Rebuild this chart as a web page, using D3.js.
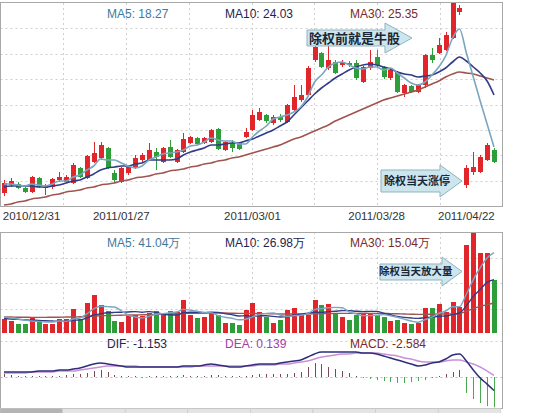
<!DOCTYPE html>
<html><head><meta charset="utf-8">
<script src="https://cdn.jsdelivr.net/npm/d3@7"></script>
<style>body{margin:0;background:#fff}svg{display:block}</style>
</head><body><svg id="c" width="550" height="413"></svg>
<script>
const tickLabels = ["2010/12/31","2011/01/27","2011/03/01","2011/03/28","2011/04/22"];
const tickIndex = [4,17,36,54,67];
const open = [14.1,14.9,15.0,14.6,14.2,15.6,14.6,14.7,15.4,15.2,
 15.1,16.6,15.6,17.2,17.6,18.6,16.1,15.2,16.1,16.6,
 17.4,17.4,18.2,17.2,18.7,17.2,18.2,19.1,19.6,19.1,
 19.2,20.5,18.4,19.1,19.1,19.7,20.4,21.4,21.9,21.1,
 21.7,21.2,22.4,23.4,23.9,27.4,28.1,26.6,27.2,26.9,
 27.1,27.1,25.2,26.6,27.7,26.7,25.6,26.2,24.1,24.8,
 24.2,24.9,27.9,28.1,28.4,29.6,32.2,14.9,16.2,16.2,
 17.4,18.4];
const high = [15.4,15.6,15.2,14.8,15.8,15.7,15.0,15.6,16.2,15.9,
 17.1,16.7,17.9,19.2,19.2,18.7,16.4,16.7,16.9,17.9,
 18.1,19.1,18.6,18.7,19.4,18.5,20.1,19.8,19.7,19.7,
 20.5,20.6,19.3,19.4,19.2,20.6,22.4,22.6,22.0,21.9,
 22.0,23.0,24.9,24.9,26.8,28.9,28.2,28.9,27.4,27.4,
 27.3,27.4,26.8,28.4,28.4,26.8,26.6,26.3,25.0,24.9,
 25.0,28.0,28.6,29.6,30.2,34.0,32.9,16.9,18.2,17.9,
 19.1,18.6];
const low = [13.8,14.7,14.5,14.1,14.1,14.6,13.9,14.5,15.2,15.1,
 15.0,15.6,15.5,17.1,17.4,16.5,15.1,15.1,15.9,16.5,
 17.2,17.3,16.4,17.1,17.6,17.1,18.1,19.0,18.9,19.0,
 19.1,18.4,18.3,18.2,18.4,19.6,20.3,21.3,21.1,20.9,
 21.2,21.1,22.3,23.2,23.8,27.2,26.6,26.4,26.0,26.7,
 26.7,25.4,25.1,26.4,26.7,25.5,25.4,24.1,23.7,24.1,
 24.1,24.6,27.1,28.0,28.3,29.5,31.9,14.6,15.9,16.1,
 17.3,17.1];
const close = [15.1,15.3,14.6,14.2,15.7,14.7,14.8,15.5,15.7,15.7,
 16.9,15.7,17.8,18.1,18.9,16.6,15.4,16.6,16.7,17.6,
 17.9,18.4,17.7,18.6,17.7,18.4,19.5,19.7,19.0,19.6,
 20.4,18.5,19.2,18.6,18.5,20.2,21.9,22.2,21.3,21.7,
 21.4,22.9,23.7,23.9,26.6,28.7,26.7,27.4,26.1,27.2,
 26.9,25.6,26.7,27.2,26.9,25.7,26.4,24.2,24.9,24.2,
 24.9,27.9,27.4,28.9,29.9,33.8,32.6,16.6,16.7,17.7,
 18.9,17.2];
const ma5 = [15.0,15.0,14.9,14.8,15.0,14.9,14.8,15.0,15.3,15.3,
 15.7,15.9,16.4,16.8,17.5,17.4,17.4,17.1,16.8,16.6,
 16.8,17.4,17.7,18.0,18.1,18.2,18.4,18.8,18.9,19.2,
 19.6,19.4,19.3,19.3,19.0,19.0,19.7,20.3,20.8,21.5,
 21.7,21.9,22.2,22.7,23.7,25.2,25.9,26.7,27.1,27.2,
 26.9,26.6,26.5,26.7,26.7,26.4,26.6,26.1,25.6,25.1,
 24.9,25.2,25.9,26.7,27.8,29.6,30.5,28.1,25.7,23.3,
 21.0,18.7];
const ma10 = [14.7,14.8,14.8,14.8,14.8,14.7,14.7,14.8,14.9,15.1,
 15.3,15.4,15.7,16.0,16.4,16.6,16.7,16.8,16.8,17.0,
 17.1,17.4,17.4,17.4,17.4,17.5,17.9,18.2,18.4,18.6,
 18.9,18.9,19.0,19.1,19.1,19.3,19.5,19.8,20.1,20.4,
 20.8,21.2,21.9,22.6,23.3,24.0,24.6,25.1,25.6,26.0,
 26.4,26.7,26.9,27.0,26.9,26.7,26.5,26.2,26.0,25.9,
 25.7,25.8,25.9,26.2,26.6,27.2,27.7,27.3,26.7,26.1,
 25.3,23.9];
const ma30 = [12.9,13.0,13.2,13.3,13.5,13.6,13.7,13.9,14.0,14.2,
 14.3,14.4,14.6,14.7,14.9,15.0,15.1,15.3,15.4,15.6,
 15.7,15.8,16.0,16.1,16.3,16.4,16.5,16.7,16.8,17.0,
 17.1,17.3,17.4,17.6,17.7,17.9,18.1,18.3,18.5,18.7,
 18.9,19.2,19.5,19.7,20.0,20.3,20.6,20.9,21.3,21.6,
 21.9,22.2,22.5,22.8,23.1,23.4,23.6,23.8,24.0,24.2,
 24.4,24.7,25.0,25.3,25.7,26.0,26.2,26.1,26.0,25.8,
 25.6,25.4];
const volume = [7,6,4.5,4.5,8,6,4.5,4.5,7,7,
 12,7,15,19,14,11,6,5.5,8.5,9,
 8.5,10,11,10,11,10.5,16.5,9,7.5,8,
 10,9,5,5,4,11.5,15,10.5,8,5,
 6.5,11.5,12.5,9,9,16.5,14,14.5,10,8,
 6.5,9,10,10,9,8,6,6.5,5,4.5,
 5,12.5,12.5,14.5,10.5,15.5,13,44,50.5,40,
 40,26.5];
const volMa5 = [8.0,7.5,7.0,6.5,6.0,5.8,5.5,5.5,6.0,5.8,
 7.0,7.5,9.6,12.0,13.4,13.2,13.0,11.1,9.0,8.0,
 7.5,8.3,9.4,9.7,10.1,10.5,11.8,11.4,10.9,10.3,
 10.2,8.7,7.9,7.4,6.6,6.9,8.1,9.2,9.8,10.0,
 9.0,8.3,8.7,8.9,9.7,11.7,12.2,12.6,12.8,12.6,
 10.6,9.6,8.7,8.7,8.9,9.2,8.6,7.9,6.9,6.0,
 5.4,6.7,7.9,9.8,11.0,13.1,13.2,19.5,26.7,32.6,
 37.5,40.2];
const volMa10 = [7.2,7.0,6.8,6.6,6.4,6.3,6.1,6.0,5.9,5.9,
 6.4,6.5,7.6,9.0,9.6,10.1,10.3,10.4,10.5,10.7,
 10.4,10.7,10.3,9.4,9.1,9.0,10.1,10.4,10.3,10.2,
 10.4,10.3,9.7,9.2,8.5,8.6,8.4,8.6,8.6,8.3,
 8.0,8.2,9.0,9.4,9.9,10.4,10.3,10.7,10.9,11.2,
 11.2,10.9,10.7,10.8,10.8,9.9,9.1,8.3,7.8,7.5,
 7.3,7.7,7.9,8.4,8.5,9.3,10.0,13.7,18.3,21.8,
 25.3,26.7];
const volMa30 = [8.0,8.0,7.9,7.9,7.8,7.8,7.8,7.9,7.9,8.0,
 8.0,8.1,8.2,8.4,8.6,8.7,8.8,8.9,9.0,9.0,
 9.1,9.2,9.3,9.4,9.5,9.6,9.8,9.9,9.9,10.0,
 10.0,10.0,10.0,9.9,9.8,9.8,9.8,9.7,9.7,9.6,
 9.5,9.5,9.5,9.5,9.5,9.6,9.7,9.7,9.8,9.8,
 9.8,9.8,9.8,9.8,9.8,9.8,9.7,9.6,9.5,9.4,
 9.3,9.3,9.4,9.5,9.5,9.6,9.7,10.9,12.2,13.3,
 14.2,15.0];
const dif = [0.43,0.43,0.43,0.43,0.43,0.51,0.51,0.51,0.6,0.6,
 0.68,0.77,0.94,1.11,1.19,1.11,1.02,0.94,0.85,0.85,
 0.85,0.85,0.85,0.85,0.85,0.85,0.94,0.94,0.94,1.02,
 1.11,1.02,0.94,0.85,0.85,0.94,1.02,1.11,1.11,1.11,
 1.19,1.28,1.36,1.45,1.7,1.96,2.13,2.13,2.13,2.13,
 2.13,2.13,2.04,2.04,1.96,1.79,1.62,1.45,1.28,1.11,
 0.94,1.02,1.19,1.28,1.53,1.87,1.96,1.36,0.6,-0.09,
 -0.6,-1.15];
const dea = [0.34,0.34,0.34,0.34,0.43,0.43,0.43,0.43,0.51,0.51,
 0.51,0.6,0.68,0.77,0.85,0.94,0.94,0.94,0.94,0.94,
 0.85,0.85,0.85,0.85,0.85,0.85,0.85,0.85,0.94,0.94,
 0.94,0.94,0.94,0.94,0.94,0.94,0.94,1.02,1.02,1.02,
 1.11,1.11,1.19,1.28,1.36,1.53,1.7,1.79,1.87,1.96,
 1.96,2.04,2.04,2.04,2.04,1.96,1.87,1.79,1.62,1.53,
 1.36,1.28,1.28,1.28,1.36,1.45,1.45,1.28,1.11,0.85,
 0.51,0.14];
const macd = [0.26,0.17,0.09,0.09,0.09,0.09,0.09,0.09,0.09,0.17,
 0.26,0.26,0.34,0.51,0.6,0.43,0.17,0.09,0.09,0.09,
 -0.09,0.09,0.09,0.09,0.09,0.09,0.17,0.09,0.09,0.09,
 0.17,0.17,0.09,0.09,0.09,0.09,0.17,0.26,0.26,0.26,
 0.26,0.26,0.34,0.43,0.85,1.19,1.1,0.85,0.68,0.51,
 0.34,0.09,-0.09,-0.17,-0.26,-0.34,-0.43,-0.51,-0.51,-0.43,
 -0.34,-0.26,-0.09,0.09,0.26,0.43,0.6,-1.36,-1.87,-2.21,
 -2.47,-2.58];
const priceLegend = ["MA5: 18.27","MA10: 24.03","MA30: 25.35"];
const volLegend = ["MA5: 41.04万","MA10: 26.98万","MA30: 15.04万"];
const macdLegend = ["DIF: -1.153","DEA: 0.139","MACD: -2.584"];
const notes = ["除权前就是牛股","除权当天涨停","除权当天放大量"];

const RED="#e0262a", GREEN="#2e9e3a";
const C5="#7aa6c2", C10="#323c86", C30="#a0544f";
const svg = d3.select("#c");
const n = close.length;
const x = d3.scaleLinear().domain([0,n-1]).range([4,494]);
const PL=0.5, PR=502.5;
const yP = d3.scaleLinear().domain([12.8,33.1]).range([206,3]);
const yV = d3.scaleLinear().domain([0,50.5]).range([333,232]);
const yM = d3.scaleLinear().domain([-2.6,3.2]).range([407.6,339.4]);

function grid(t,b,rows){
  const g=svg.append("g").attr("stroke","#cfcfcf").attr("stroke-dasharray","2,3").attr("stroke-width",1);
  for(let k=1;k<8;k++){const gx=Math.round(PL+k*(PR-PL)/8)+0.5;g.append("line").attr("x1",gx).attr("x2",gx).attr("y1",t).attr("y2",b);}
  for(let k=1;k<rows;k++){const gy=Math.round(t+k*(b-t)/rows)+0.5;g.append("line").attr("x1",PL).attr("x2",PR).attr("y1",gy).attr("y2",gy);}
}
grid(3,206,8);
grid(232,334,4);
svg.append("line").attr("x1",PL).attr("x2",PR).attr("y1",341.5).attr("y2",341.5).attr("stroke","#cfcfcf").attr("stroke-dasharray","2,3");
svg.append("line").attr("x1",PL).attr("x2",PR).attr("y1",yM(0)+0.5).attr("y2",yM(0)+0.5).attr("stroke","#bbb").attr("stroke-dasharray","2,3");

// clips
const defs=svg.append("defs");
defs.append("clipPath").attr("id","cp").append("rect").attr("x",PL).attr("y",3).attr("width",PR-PL).attr("height",203);
defs.append("clipPath").attr("id","cm").append("rect").attr("x",PL).attr("y",336).attr("width",PR-PL).attr("height",72);

// candles
const idx=d3.range(n);
const gc=svg.append("g").attr("clip-path","url(#cp)");
const col=i=>close[i]>=open[i]?RED:GREEN;
gc.selectAll("line.w").data(idx).join("line").attr("x1",i=>Math.round(x(i))+0.5).attr("x2",i=>Math.round(x(i))+0.5)
 .attr("y1",i=>yP(high[i])).attr("y2",i=>yP(low[i])).attr("stroke",col).attr("stroke-width",1);
gc.selectAll("rect.b").data(idx).join("rect").attr("x",i=>Math.round(x(i))-2).attr("width",5)
 .attr("y",i=>yP(Math.max(open[i],close[i]))).attr("height",i=>Math.max(1.5,Math.abs(yP(open[i])-yP(close[i]))))
 .attr("fill",col);
const lineP=d3.line().x((d,i)=>x(i)).y(d=>yP(d)).curve(d3.curveMonotoneX);
[[ma30,C30],[ma10,C10],[ma5,C5]].forEach(([a,c])=>gc.append("path").attr("d",lineP(a)).attr("fill","none").attr("stroke",c).attr("stroke-width",1.6));

// volume
const gv=svg.append("g");
gv.selectAll("rect").data(idx).join("rect").attr("x",i=>Math.round(x(i))-2).attr("width",5)
 .attr("y",i=>yV(volume[i])).attr("height",i=>yV(0)-yV(volume[i])).attr("fill",col);
const lineV=d3.line().x((d,i)=>x(i)).y(d=>yV(d)).curve(d3.curveMonotoneX);
[[volMa30,C30],[volMa10,C10],[volMa5,C5]].forEach(([a,c])=>gv.append("path").attr("d",lineV(a)).attr("fill","none").attr("stroke",c).attr("stroke-width",1.4));

// macd
const gm=svg.append("g").attr("clip-path","url(#cm)");
gm.selectAll("line").data(idx).join("line").attr("x1",i=>Math.round(x(i))+0.5).attr("x2",i=>Math.round(x(i))+0.5)
 .attr("y1",yM(0)).attr("y2",i=>yM(macd[i])).attr("stroke",i=>macd[i]>=0?"#7a4a52":"#4aa84e").attr("stroke-width",1);
const lineM=d3.line().x((d,i)=>x(i)).y(d=>yM(d)).curve(d3.curveMonotoneX);
gm.append("path").attr("d",lineM(dea)).attr("fill","none").attr("stroke","#c98fd8").attr("stroke-width",1.5);
gm.append("path").attr("d",lineM(dif)).attr("fill","none").attr("stroke","#2c2f78").attr("stroke-width",1.5);

// borders
svg.append("rect").attr("x",PL).attr("y",2.5).attr("width",PR-PL).attr("height",204).attr("fill","none").attr("stroke","#a8a8a8");
svg.append("rect").attr("x",PL).attr("y",232.5).attr("width",PR-PL).attr("height",176).attr("fill","none").attr("stroke","#a8a8a8");

// date labels
svg.append("g").selectAll("text").data(tickIndex).join("text").attr("x",i=>x(i)).attr("y",220)
 .attr("text-anchor","middle").attr("font-family","Liberation Sans, Arial, sans-serif").attr("font-size",11.5).attr("fill","#333")
 .text((d,k)=>tickLabels[k]);

// legends
const lx=[107,225,350], lc=[ "#3f7a9a","#1d2450","#7a2a2a"];
function legend(arr,y,colors){svg.append("g").selectAll("text").data(arr).join("text").attr("x",(d,k)=>lx[k]).attr("y",y)
 .attr("font-family","Liberation Sans, Arial, sans-serif").attr("font-size",12).attr("fill",(d,k)=>colors[k]).text(d=>d);}
legend(priceLegend,18,lc);
legend(volLegend,247,lc);
legend(macdLegend,348,["#1d2450","#a040a8","#7a2a2a"]);

// tabs strip
const tabs=svg.append("g");
for(let k=0;k<8;k++){tabs.append("rect").attr("x",k*62.6).attr("y",408.5).attr("width",62.6).attr("height",5).attr("fill",k===0?"#b4b4b4":"#e4e4e4").attr("stroke","#c8c8c8").attr("stroke-width",0.6);}

// annotations
function arrow(x0,xb,xt,bt,bb,ht,hb,label,fs,tx){
  const yc=(ht+hb)/2;
  const g=svg.append("g");
  g.append("path").attr("d",`M${x0},${bt}H${xb}V${ht}L${xt},${yc}L${xb},${hb}V${bb}H${x0}Z`).attr("fill","#cde6ee").attr("stroke","#8fb3bf").attr("stroke-width",1);
  g.append("text").attr("x",tx).attr("y",yc+fs*0.36).attr("font-family","Noto Sans CJK SC, sans-serif").attr("font-weight","bold").attr("font-size",fs).attr("fill","#1a2838").text(label);
}
arrow(307,385,412,30,46,23,53,notes[0],13,309);
arrow(381,440,462,170,192,165,197,notes[1],11,384);
arrow(380,442,462,264,280,257,286,notes[2],10.5,379);
</script></body></html>
